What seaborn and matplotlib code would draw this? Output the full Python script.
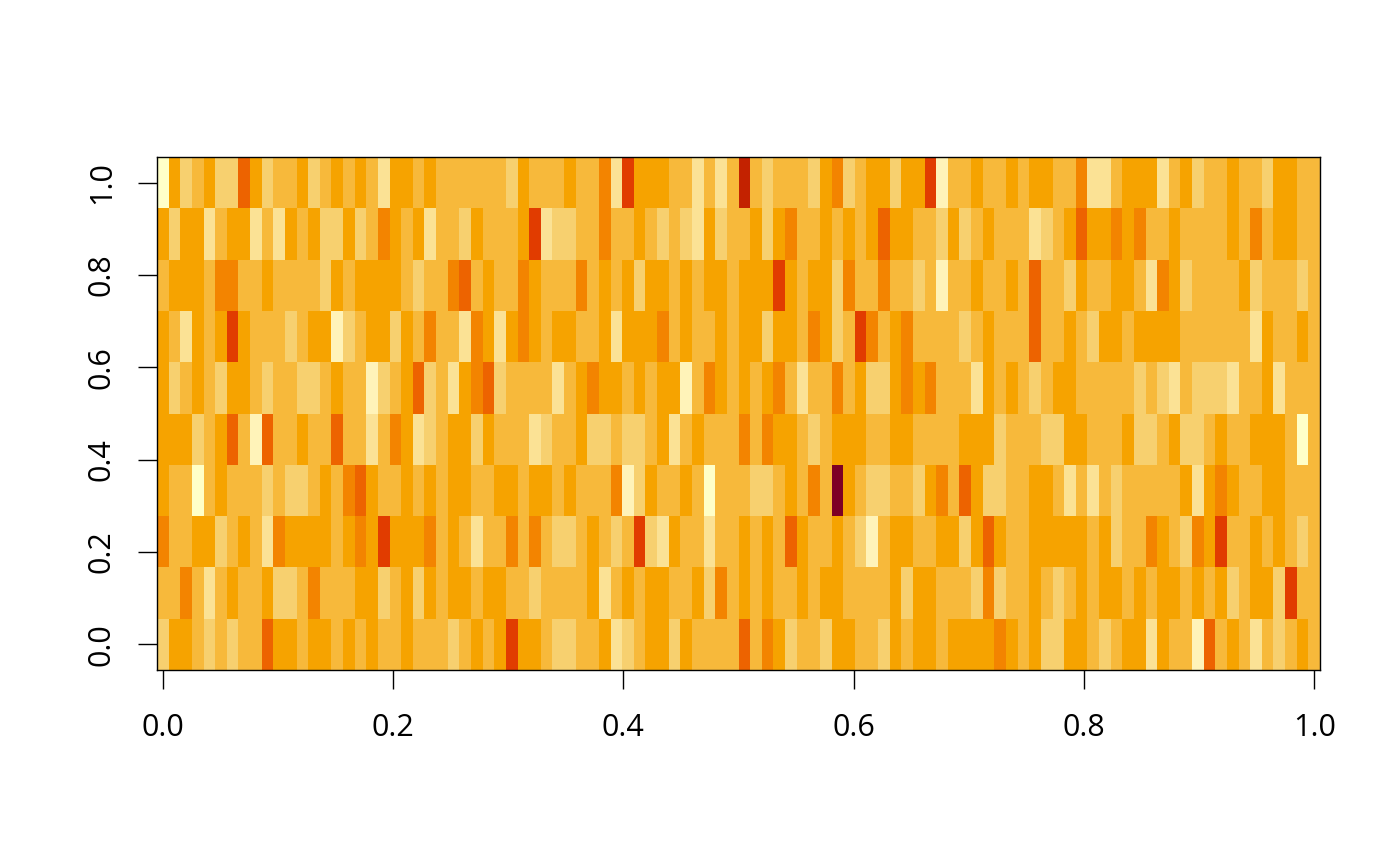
import matplotlib
matplotlib.use('Agg')
import matplotlib.pyplot as plt
from matplotlib.colors import ListedColormap
import numpy as np
import seaborn as sns

# colour steps, palest first (level 0) to darkest (level 10)
palette = ['#FFFFC8', '#FFF3B9', '#FBE295', '#F7D06F', '#F7B93B', '#F6A300',
           '#F38400', '#ED6300', '#E13C00', '#C32200', '#7D0025']

# one string per row, each character is a level in hex, groups of 5 columns
row_9 = '05345 33753 44534 54542 55454 44444 35444 54462 85554 42424 94344 43563 45535 58144 54454 55446 22455 52453 44544 35544'
row_8 = '53552 45524 25453 35346 54524 43544 45823 34464 45434 32534 45356 44545 45755 44353 45444 23457 55656 44544 44546 45544'
row_7 = '45554 66445 44443 54555 54344 67454 46544 46454 53554 54554 55585 45536 44644 34144 54454 74435 44554 26534 44453 44434'
row_6 = '54254 58544 43455 13455 35464 42652 56545 54452 55564 54454 55355 46534 86456 44443 45444 74454 35545 55544 44442 54454'
row_5 = '53454 35543 44334 54413 45734 25673 44442 45655 45455 14654 54564 24464 53356 56444 25454 34554 44443 43243 33244 52444'
row_4 = '55534 57417 44544 74424 65234 55354 44234 45334 33452 45444 64655 43455 54455 44445 55344 43355 44453 34533 45445 55404'
row_3 = '54404 54443 43345 46754 45454 55445 54554 54446 13544 54044 43345 464A5 43344 35647 53344 55424 24344 44452 56544 55444'
row_2 = '64455 34542 65555 45658 55564 54244 64643 34543 48325 44244 54547 54454 31455 44553 57544 55555 45344 65436 58445 45434'
row_1 = '44642 45445 33464 44553 45354 55455 44344 44524 54554 45364 54544 54554 44453 55444 36344 54345 45545 45545 45345 53844'
row_0 = '35543 43447 55455 45454 45444 34545 85543 34452 34553 54444 74653 44355 44354 55455 55654 53355 43455 25441 74542 43454'

rows = [row_9, row_8, row_7, row_6, row_5, row_4, row_3, row_2, row_1, row_0]
levels = np.array([[int(c, 16) for c in r.replace(' ', '')] for r in rows])

tick_values = [0.0, 0.2, 0.4, 0.6, 0.8, 1.0]
tick_labels = ['0.0', '0.2', '0.4', '0.6', '0.8', '1.0']

plt.rcParams['font.family'] = ['Open Sans', 'DejaVu Sans']

fig = plt.figure(figsize=(14, 8.66), dpi=100)
ax = fig.add_axes([157 / 1400, 1 - 670 / 866, (1320 - 157) / 1400, (670 - 157) / 866])

sns.heatmap(levels, cmap=ListedColormap(palette), vmin=-0.5, vmax=10.5, cbar=False, ax=ax)

# cell centres run from 0 to 1 along both axes, like R's image()
n_rows, n_cols = levels.shape
ax.set_xticks([0.5 + v * (n_cols - 1) for v in tick_values])
ax.set_xticklabels(tick_labels, rotation=0)
ax.set_yticks([0.5 + (1 - v) * (n_rows - 1) for v in tick_values])
ax.set_yticklabels(tick_labels, rotation=90, va='center')

ax.tick_params(axis='both', length=14, width=1.0, labelsize=22, color='black', labelcolor='black')
ax.tick_params(axis='x', pad=17)
ax.tick_params(axis='y', pad=15)
for side in ax.spines.values():
    side.set_visible(True)
    side.set_linewidth(1.0)
    side.set_color('black')

fig.savefig('out.png', dpi=100)
